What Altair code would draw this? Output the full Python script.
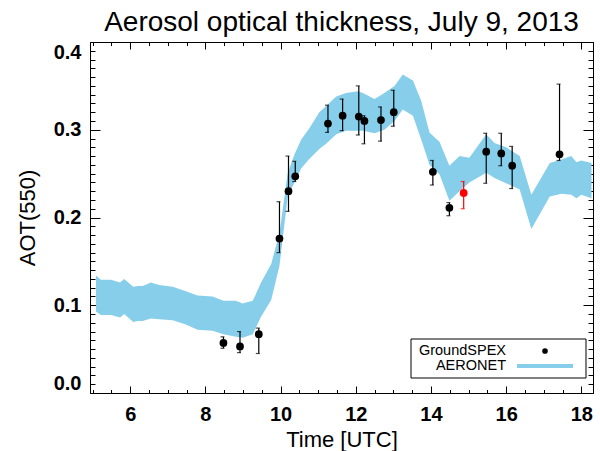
import altair as alt
import pandas as pd

# ---------------- data ----------------
# AERONET AOT(550) envelope (lower / upper edge)
aer_time = [5.09, 5.22, 5.49, 5.73, 5.84, 6.08, 6.20, 6.33, 6.55, 6.77, 7.13, 7.48, 7.79,
            8.19, 8.48, 8.81, 8.99, 9.26, 9.48, 9.75, 9.97, 10.19, 10.37, 10.55, 10.77,
            11.03, 11.21, 11.48, 11.74, 12.05, 12.19, 12.50, 12.76, 13.03, 13.25, 13.52,
            13.74, 13.96, 14.23, 14.49, 14.76, 15.02, 15.47, 15.69, 16.00, 16.36, 16.67,
            17.16, 17.47, 17.73, 17.87, 18.00, 18.27]
aer_high = [0.134, 0.129, 0.129, 0.126, 0.130, 0.121, 0.122, 0.122, 0.126, 0.123, 0.121,
            0.116, 0.111, 0.110, 0.105, 0.105, 0.102, 0.105, 0.126, 0.147, 0.182, 0.251,
            0.272, 0.289, 0.302, 0.320, 0.327, 0.338, 0.342, 0.344, 0.342, 0.335, 0.342,
            0.350, 0.363, 0.356, 0.333, 0.297, 0.286, 0.259, 0.270, 0.268, 0.295, 0.285,
            0.280, 0.270, 0.226, 0.262, 0.266, 0.270, 0.263, 0.265, 0.262]
aer_low = [0.093, 0.089, 0.089, 0.086, 0.090, 0.081, 0.082, 0.082, 0.085, 0.084, 0.083,
           0.078, 0.072, 0.071, 0.067, 0.064, 0.063, 0.067, 0.087, 0.106, 0.145, 0.224,
           0.240, 0.256, 0.267, 0.278, 0.284, 0.295, 0.299, 0.299, 0.299, 0.296, 0.300,
           0.310, 0.323, 0.316, 0.289, 0.260, 0.249, 0.219, 0.230, 0.240, 0.251, 0.245,
           0.239, 0.232, 0.187, 0.224, 0.227, 0.226, 0.222, 0.226, 0.222]

# GroundSPEX retrievals with error bars
gs_time = [8.48, 8.92, 9.42, 9.97, 10.21, 10.39, 11.26, 11.65, 12.08, 12.23, 12.67, 13.01,
           14.05, 14.49, 14.87, 15.47, 15.87, 16.16, 17.42]
gs_aot = [0.057, 0.053, 0.067, 0.176, 0.230, 0.247, 0.307, 0.316, 0.315, 0.310, 0.311,
          0.320, 0.252, 0.211, 0.228, 0.275, 0.273, 0.259, 0.272]
gs_lo = [0.051, 0.046, 0.045, 0.160, 0.207, 0.241, 0.297, 0.299, 0.294, 0.284, 0.287,
         0.304, 0.237, 0.202, 0.210, 0.239, 0.259, 0.233, 0.265]
gs_hi = [0.064, 0.070, 0.074, 0.218, 0.270, 0.264, 0.328, 0.335, 0.350, 0.316, 0.326,
         0.345, 0.265, 0.217, 0.241, 0.296, 0.296, 0.281, 0.352]
gs_flag = ["ok", "ok", "ok", "ok", "ok", "ok", "ok", "ok", "ok", "ok", "ok", "ok",
           "ok", "ok", "flagged", "ok", "ok", "ok", "ok"]

legend_labels = ["GroundSPEX", "AERONET"]

x_major = [6, 8, 10, 12, 14, 16, 18]
x_minor = [5.0 + 0.5 * i for i in range(27)]
y_major = [0.0, 0.1, 0.2, 0.3, 0.4]
y_minor = [round(0.01 * i, 2) for i in range(41)]

# ---------------- layout ----------------
W, H = 503, 351
FONT = "Liberation Sans"
BLUE = "#87CEEB"
X_DOMAIN = [4.93, 18.31]
Y_DOMAIN = [0.0, 0.4]

band = pd.DataFrame({"t": aer_time, "lo": aer_low, "hi": aer_high})
gs = pd.DataFrame({"t": gs_time, "aot": gs_aot, "lo": gs_lo, "hi": gs_hi, "flag": gs_flag})

xs = alt.Scale(domain=X_DOMAIN, nice=False, zero=False)
ys = alt.Scale(domain=Y_DOMAIN, nice=False, zero=False)
flag_scale = alt.Scale(domain=["ok", "flagged"], range=["black", "red"])


def xaxis_ticks(orient, values, size, domain=False):
    return alt.Axis(orient=orient, offset=-H, values=values, tickSize=size, labels=False,
                    title=None, grid=False, domain=domain, domainColor="black",
                    domainWidth=1, tickColor="black", tickWidth=1, ticks=True)


def yaxis_ticks(orient, values, size, domain=False):
    return alt.Axis(orient=orient, offset=-W, values=values, tickSize=size, labels=False,
                    title=None, grid=False, domain=domain, domainColor="black",
                    domainWidth=1, tickColor="black", tickWidth=1, ticks=True)


# Band (with labelled bottom / left axes)
band_layer = alt.Chart(band).mark_area(color=BLUE, opacity=1, interpolate="linear").encode(
    x=alt.X("t:Q", scale=xs, axis=alt.Axis(
        orient="bottom", values=x_major, format="d", ticks=False, grid=False,
        domain=True, domainColor="black", domainWidth=1,
        labelFont=FONT, labelFontSize=20, labelFontWeight="bold", labelColor="black",
        labelPadding=11, labelFlush=False,
        title="Time [UTC]", titleFont=FONT, titleFontSize=22, titleFontWeight="normal",
        titleColor="black", titleBaseline="alphabetic", titleY=53)),
    y=alt.Y("lo:Q", scale=ys, axis=alt.Axis(
        orient="left", values=y_major, format=".1f", ticks=False, grid=False,
        domain=True, domainColor="black", domainWidth=1,
        labelFont=FONT, labelFontSize=20, labelFontWeight="bold", labelColor="black",
        labelPadding=9, labelFlush=True,
        title="AOT(550)", titleFont=FONT, titleFontSize=22, titleFontWeight="normal",
        titleColor="black", titleBaseline="alphabetic", titleX=-56)),
    y2="hi:Q",
)

# Error bars (vertical) -> carries top/right major ticks + box
err_layer = alt.Chart(gs).mark_rule(strokeWidth=1.2).encode(
    x=alt.X("t:Q", scale=xs, axis=xaxis_ticks("bottom", x_major, 7, domain=True)),
    y=alt.Y("lo:Q", scale=ys, axis=yaxis_ticks("left", y_major, 10, domain=True)),
    y2="hi:Q",
    color=alt.Color("flag:N", scale=flag_scale, legend=None),
)

# Caps at ends of error bars -> carry minor ticks
cap_hi = alt.Chart(gs).mark_tick(orient="horizontal", size=4, thickness=1.2, xOffset=-1).encode(
    x=alt.X("t:Q", scale=xs, axis=xaxis_ticks("bottom", x_minor, 3.5)),
    y=alt.Y("hi:Q", scale=ys, axis=yaxis_ticks("left", y_minor, 5)),
    color=alt.Color("flag:N", scale=flag_scale, legend=None),
)
cap_lo = alt.Chart(gs).mark_tick(orient="horizontal", size=4, thickness=1.2, xOffset=-1).encode(
    x=alt.X("t:Q", scale=xs, axis=xaxis_ticks("top", x_minor, 3.5)),
    y=alt.Y("lo:Q", scale=ys, axis=yaxis_ticks("right", y_minor, 5)),
    color=alt.Color("flag:N", scale=flag_scale, legend=None),
)

# Points -> carry bottom/left major ticks (pointing inward)
pt_layer = alt.Chart(gs).mark_circle(size=60, opacity=1).encode(
    x=alt.X("t:Q", scale=xs, axis=xaxis_ticks("top", x_major, 7)),
    y=alt.Y("aot:Q", scale=ys, axis=yaxis_ticks("right", y_major, 10)),
    color=alt.Color("flag:N", scale=flag_scale, legend=None),
)

# Legend (drawn inside the plot, lower right)
one = pd.DataFrame({"k": [0]})
leg_box = alt.Chart(one).mark_rect(fill="white", stroke="black", strokeWidth=1).encode(
    x=alt.value(321), x2=alt.value(496), y=alt.value(297), y2=alt.value(336))
leg_t1 = alt.Chart(one).mark_text(align="right", baseline="middle", font=FONT,
                                  fontSize=14.5, color="black").encode(
    x=alt.value(416), y=alt.value(308.5), text=alt.value(legend_labels[0]))
leg_t2 = alt.Chart(one).mark_text(align="right", baseline="middle", font=FONT,
                                  fontSize=14.5, color="black").encode(
    x=alt.value(416), y=alt.value(323.5), text=alt.value(legend_labels[1]))
leg_dot = alt.Chart(one).mark_circle(size=32, color="black", opacity=1).encode(
    x=alt.value(455), y=alt.value(309))
leg_line = alt.Chart(one).mark_rule(color=BLUE, strokeWidth=4).encode(
    x=alt.value(427), x2=alt.value(483), y=alt.value(324))

chart = alt.layer(
    band_layer, err_layer, cap_hi, cap_lo, pt_layer,
    leg_box, leg_t1, leg_t2, leg_dot, leg_line,
).resolve_axis(x="independent", y="independent").properties(
    width=W, height=H,
    title=alt.TitleParams("Aerosol optical thickness, July 9, 2013", font=FONT,
                          fontSize=28, fontWeight="normal", color="black",
                          anchor="middle", baseline="alphabetic", offset=-17),
    autosize=alt.AutoSizeParams(type="none"),
    padding={"left": 90, "top": 42, "right": 7, "bottom": 58},
).configure_view(stroke=None).configure(background="white")

chart.save("out.html", embed_options={"renderer": "svg", "actions": False})
